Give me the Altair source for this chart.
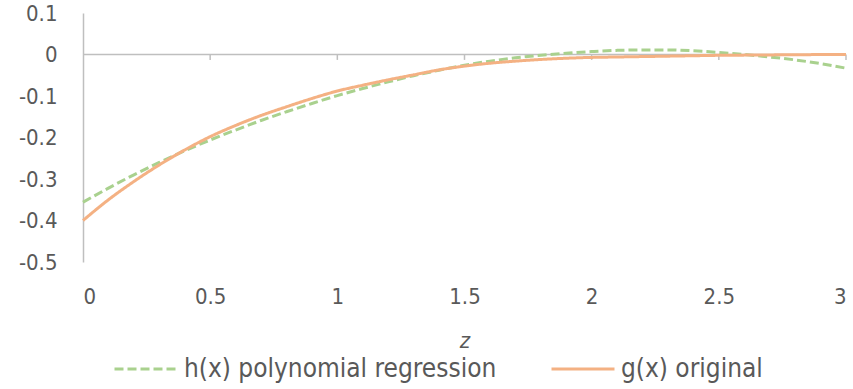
import altair as alt
import pandas as pd

x_vals = [0.0, 0.1, 0.2, 0.3, 0.4, 0.5, 0.6, 0.7, 0.8, 0.9, 1.0,
          1.1, 1.2, 1.3, 1.4, 1.5, 1.6, 1.7, 1.8, 1.9, 2.0,
          2.1, 2.2, 2.3, 2.4, 2.5, 2.6, 2.7, 2.8, 2.9, 3.0]

h_vals = [-0.356, -0.322, -0.290, -0.260, -0.232, -0.206, -0.182, -0.159, -0.138, -0.118, -0.099,
          -0.082, -0.066, -0.051, -0.038, -0.026, -0.016, -0.008, -0.002, 0.003, 0.007,
          0.010, 0.011, 0.011, 0.009, 0.005, 0.000, -0.006, -0.013, -0.022, -0.033]

g_vals = [-0.400, -0.350, -0.306, -0.266, -0.230, -0.198, -0.171, -0.147, -0.126, -0.106, -0.088,
          -0.074, -0.061, -0.049, -0.037, -0.028, -0.021, -0.016, -0.012, -0.009, -0.007,
          -0.006, -0.005, -0.004, -0.003, -0.002, -0.0015, -0.001, -0.0005, -0.0002, 0.0]

series_names = ["h(x) polynomial regression", "g(x) original"]
series_colors = ["#A9D18E", "#F4B183"]
x_ticks = [0, 0.5, 1, 1.5, 2, 2.5, 3]
y_ticks = [0.1, 0, -0.1, -0.2, -0.3, -0.4, -0.5]

rows = []
for name, vals in zip(series_names, [h_vals, g_vals]):
    for xv, yv in zip(x_vals, vals):
        rows.append({"x": xv, "y": yv, "series": name})
df = pd.DataFrame(rows)
tick_df = pd.DataFrame({"t": x_ticks[1:]})

FONT = "DejaVu Sans Condensed"
TXT = "#595959"
AX = "#BFBFBF"

xscale = alt.Scale(domain=[0, 3], nice=False, zero=False)
yscale = alt.Scale(domain=[-0.5, 0.1], nice=False, zero=False)

lines = alt.Chart(df).mark_line(strokeWidth=3, interpolate="monotone").encode(
    x=alt.X("x:Q", scale=xscale,
            axis=alt.Axis(values=x_ticks, domain=False, ticks=False, grid=False,
                          labelExpr="datum.value + ''",
                          labelPadding=24, labelFontSize=22, labelColor=TXT, labelFont=FONT,
                          title="z", titleFont=FONT, titleFontSize=22, titleFontStyle="italic",
                          titleFontWeight="normal", titleColor=TXT, titlePadding=23)),
    y=alt.Y("y:Q", scale=yscale,
            axis=alt.Axis(values=y_ticks, domain=True, domainColor=AX, domainWidth=1.5,
                          labelExpr="datum.value + ''",
                          ticks=False, grid=False, labelPadding=26, labelFontSize=22,
                          labelColor=TXT, labelFont=FONT, title=None)),
    color=alt.Color("series:N", scale=alt.Scale(domain=series_names, range=series_colors),
                    sort=series_names,
                    legend=alt.Legend(title=None, orient="none", direction="horizontal",
                                      legendX=30, legendY=323, symbolType="stroke",
                                      symbolSize=3969, symbolStrokeWidth=3, labelFont=FONT,
                                      labelFontSize=26, labelColor=TXT, columnPadding=48,
                                      labelOffset=5, padding=0, labelLimit=600)),
    strokeDash=alt.StrokeDash("series:N",
                              scale=alt.Scale(domain=series_names, range=[[9, 4], [1, 0]]),
                              sort=series_names, legend=None),
)

zero_rule = alt.Chart(pd.DataFrame({"a": [0]})).mark_rule(color=AX, strokeWidth=1.5).encode(
    x=alt.datum(0, scale=xscale), x2=alt.datum(3), y=alt.datum(0, scale=yscale)
)

tick_marks = alt.Chart(tick_df).mark_rule(color=AX, strokeWidth=1.5).encode(
    x=alt.X("t:Q", scale=xscale),
    y=alt.datum(0, scale=yscale),
    y2=alt.datum(-0.013),
)

chart = alt.layer(zero_rule, tick_marks, lines).properties(
    width=763, height=249,
    autosize=alt.AutoSizeParams(type="none"),
    padding={"left": 83, "top": 13, "right": 7, "bottom": 127},
).configure(background="white").configure_view(stroke="transparent", strokeWidth=0)

chart.save("out.html", embed_options={"renderer": "svg", "actions": False})
